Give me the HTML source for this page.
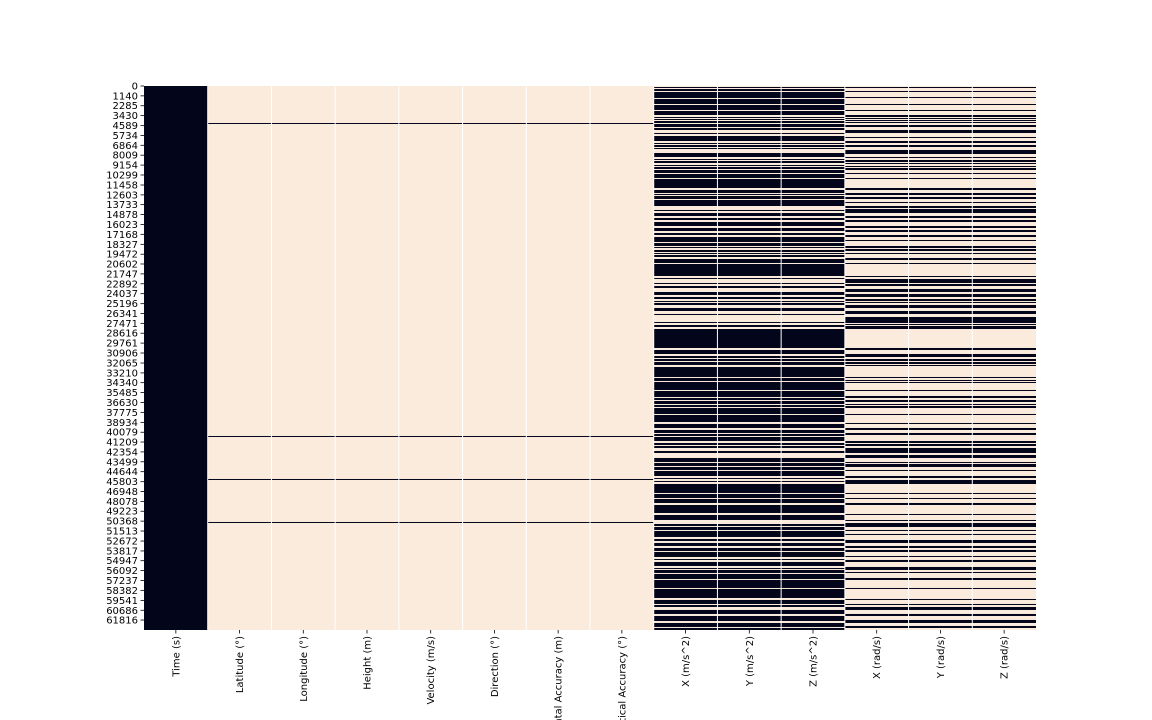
<!DOCTYPE html>
<html><head><meta charset="utf-8"><style>
html,body{margin:0;padding:0;background:#fff;width:1152px;height:720px;overflow:hidden;}
svg{display:block;font-family:"DejaVu Sans","Liberation Sans",sans-serif;overflow:hidden;}
</style></head><body>
<svg id="chart" width="1152" height="720" viewBox="0 0 1152 720" xmlns="http://www.w3.org/2000/svg"></svg>
<script>
const columns = ["Time (s)","Latitude (°)","Longitude (°)","Height (m)","Velocity (m/s)","Direction (°)","Horizontal Accuracy (m)","Vertical Accuracy (°)","X (m/s^2)","Y (m/s^2)","Z (m/s^2)","X (rad/s)","Y (rad/s)","Z (rad/s)"];
const totalRows = 62970;
const rowsPerBin = 115.75;
const yTickLabels = [0,1140,2285,3430,4589,5734,6864,8009,9154,10299,11458,12603,13733,14878,16023,17168,18327,19472,20602,21747,22892,24037,25196,26341,27471,28616,29761,30906,32065,33210,34340,35485,36630,37775,38934,40079,41209,42354,43499,44644,45803,46948,48078,49223,50368,51513,52672,53817,54947,56092,57237,58382,59541,60686,61816];
// column groups: 0 = always missing, 1 = position (gps) columns, 2 = accelerometer, 3 = gyroscope
const columnGroup = [0,1,1,1,1,1,1,1,2,2,2,3,3,3];
// missing runs in row-bins ([start,end])
const missingPosition = [[37,38],[350,351],[393,394],[436,437]];
const missingAccel = [[1,2],[3,5],[6,12],[13,18],[19,24],[25,29],[31,32],[33,34],[35,37],[38,41],[42,44],[47,48],[50,55],[57,58],[59,61],[62,63],[67,71],[73,74],[75,75.7],[76,77],[79,80],[81,83],[84,87],[88,92],[93,102],[104,107],[108,109],[110,113],[114,120],[124,125],[127,130],[132,134],[136,140],[142,145],[147,149],[151,156],[157,160],[161,162],[164,166],[167,168],[169,171],[173,177],[178,190],[192,193],[197,198],[200,202],[206,209],[211,213],[215,216],[217,219],[222,225],[228,229],[236,237],[239,241],[243,262],[264,268],[270,272],[273,275],[276,279],[281,291],[292,295],[296,304],[305,311],[312,314],[315,318],[319,321],[322,328],[329,336],[338,342],[344,347],[348,350],[351,355],[357,359],[360,362],[365,367],[372,376],[377,380],[381,384],[385,390],[392,393],[395,396],[398,407],[408,412],[413,417],[419,427],[429,434],[438,440],[441,444],[445,451],[453,455],[457,460],[462,465],[466,471],[473,474],[476,480],[482,483],[484,487],[488,493],[494,502],[503,512],[514,518],[519,521],[524,528],[530,535],[537,541],[542,544]];
const missingGyro = [[1,1.6],[5,6],[11,12],[18,19],[24,25],[29,31],[32,33],[34,35],[36,37],[39,41],[44,47],[51,52],[55,57],[59,61],[64,68],[71,72],[74,76],[77,78],[80,81],[82,84],[87,88],[92,93],[102,104],[107,109],[111,113],[116,117],[120,122],[123,127],[130,132],[134,136],[140,142],[144,146],[149,151],[154,155],[160,162],[163,165],[167,168],[172,174],[177,178],[190,191],[193,197],[198,200],[203,206],[208,211],[213,215],[216,217],[219,222],[225,228],[231,237],[238,239],[240,243],[262,264],[268,271],[273,275],[276,278],[279,280],[291,292],[294,295],[296,297],[304,305],[310,312],[314,316],[318,319],[320,322],[328,329],[337,338],[342,344],[347,349],[355,357],[358,360],[362,367],[369,372],[376,377],[378,381],[384,385],[390,392],[394,398],[407,408],[412,413],[417,419],[428,429],[434,435],[437,441],[444,445],[448,449],[454,457],[460,462],[464,466],[470,471],[474,476],[481,484],[486,487],[492,494],[502,503],[513,514],[518,519],[521,524],[528,530],[534,537],[540,542]];

const NS = "http://www.w3.org/2000/svg";
const svg = document.getElementById('chart');
const X0 = 144, X1 = 1036, Y0 = 86, Y1 = 630;
const DARK = "#03051a", LIGHT = "#faebdd";
const colW = (X1 - X0) / columns.length;
function xScale(i){ return X0 + i * colW; }
function yScale(r){ return Y0 + (r / totalRows) * (Y1 - Y0); }
function mk(tag, attrs){ const e = document.createElementNS(NS, tag); for (const k in attrs) e.setAttribute(k, attrs[k]); svg.appendChild(e); return e; }

const runsByGroup = {1: missingPosition, 2: missingAccel, 3: missingGyro};
columns.forEach((c, i) => {
  const g = columnGroup[i];
  const bg = mk('rect', {x: xScale(i), y: Y0, width: colW, height: Y1 - Y0, fill: g === 0 ? DARK : LIGHT});
  
  
  if (g === 0) return;
  runsByGroup[g].forEach(run => {
    const ya = yScale(run[0] * rowsPerBin), yb = yScale(run[1] * rowsPerBin);
    const r = mk('rect', {x: xScale(i), y: ya, width: colW, height: Math.max(1, yb - ya), fill: DARK});
    
    
  });
});
for (let i = 1; i < columns.length; i++) {
  const l = mk('line', {x1: xScale(i), x2: xScale(i), y1: Y0, y2: Y1, stroke: '#fff', 'stroke-width': 1});
  
  
}
yTickLabels.forEach(v => {
  const y = yScale(v + 0.5);
  const t = mk('line', {x1: X0 - 3.5, x2: X0, y1: y, y2: y, stroke: '#000', 'stroke-width': 0.8});
  
  
  const tx = mk('text', {x: X0 - 6, y: y + 3.5, 'text-anchor': 'end', 'font-size': 10, fill: '#000'});
  tx.textContent = v;
  
  
});
columns.forEach((c, i) => {
  const x = xScale(i) + colW / 2;
  const t = mk('line', {x1: x, x2: x, y1: Y1, y2: Y1 + 3.5, stroke: '#000', 'stroke-width': 0.8});
  
  
  const tx = mk('text', {x: 0, y: 0, 'text-anchor': 'end', 'font-size': 10, fill: '#000', transform: `translate(${x + 3.5},${Y1 + 6}) rotate(-90)`});
  tx.textContent = c;
  
  
});
</script>
</body></html>
